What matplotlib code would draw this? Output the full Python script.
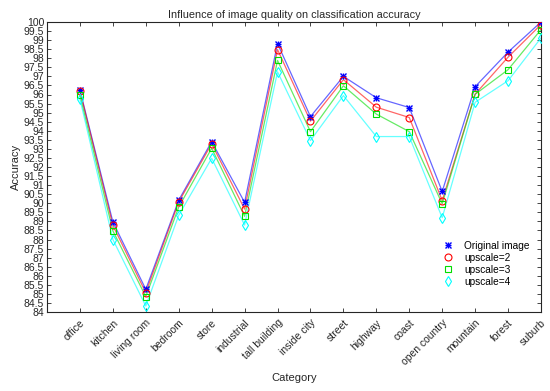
import matplotlib
matplotlib.use("Agg")
import matplotlib.pyplot as plt
import numpy as np

plt.rcParams['font.family'] = ['Liberation Sans', 'DejaVu Sans']

categories = ["office", "kitchen", "living room", "bedroom", "store", "industrial",
              "tall building", "inside city", "street", "highway", "coast",
              "open country", "mountain", "forest", "suburb"]

original = [96.25, 88.97, 85.25, 90.17, 93.40, 90.05, 98.81, 94.78, 97.00, 95.82, 95.28, 90.65, 96.43, 98.34, 100.00]
upscale2 = [96.20, 88.78, 85.07, 90.07, 93.28, 89.68, 98.48, 94.53, 96.82, 95.30, 94.73, 90.15, 96.02, 98.06, 99.86]
upscale3 = [95.95, 88.48, 84.85, 89.79, 93.03, 89.28, 97.88, 93.95, 96.48, 94.92, 93.95, 89.97, 96.01, 97.37, 99.58]
upscale4 = [95.75, 88.00, 84.33, 89.34, 92.48, 88.80, 97.25, 93.46, 95.94, 93.68, 93.68, 89.20, 95.57, 96.76, 99.12]

series = [
    ("Original image", original, "#0000ff", "*", 5),
    ("upscale=2", upscale2, "#ff0000", "o", 5),
    ("upscale=3", upscale3, "#00dd00", "s", 4.5),
    ("upscale=4", upscale4, "#00ffff", "d", 5),
]

fig = plt.figure(figsize=(5.5, 3.91), dpi=100)
ax = fig.add_axes([47/550, 1 - 312/391, 494/550, 290/391])

x = np.arange(1, len(categories) + 1)
handles = []
for label, vals, color, marker, ms in series:
    ax.plot(x, vals, color=color, lw=0.9, alpha=0.6, zorder=2)
    if marker == "*":
        kw = dict(linestyle='none', markeredgecolor=color, markeredgewidth=1.0)
        ax.plot(x, vals, marker='+', markersize=ms, zorder=3, **kw)
        ax.plot(x, vals, marker='x', markersize=ms * 0.75, zorder=3, **kw)
        h1, = ax.plot([], [], marker='+', markersize=ms, **kw)
        h2, = ax.plot([], [], marker='x', markersize=ms * 0.75, **kw)
        handles.append(((h1, h2), label))
    else:
        ax.plot(x, vals, linestyle='none', marker=marker, markersize=ms,
                markerfacecolor='none', markeredgecolor=color, markeredgewidth=0.8, zorder=3)
        h, = ax.plot([], [], linestyle='none', marker=marker, markersize=ms,
                     markerfacecolor='none', markeredgecolor=color, markeredgewidth=0.8)
        handles.append((h, label))

ax.set_xlim(0, 15)
ax.set_ylim(84, 100)
yt = np.arange(84, 100.01, 0.5)
ax.set_yticks(yt)
ax.set_yticklabels([f"{v:g}" for v in yt])
ax.set_xticks(x)
ax.set_xticklabels(categories, rotation=45, ha='right', rotation_mode='anchor')

ax.tick_params(direction='in', length=3, width=0.6, top=True, right=True,
               labelsize=7.5, colors='#262626', pad=2)
ax.tick_params(axis='x', pad=4)
for s in ax.spines.values():
    s.set_linewidth(0.8)
    s.set_color('#262626')

ax.set_title("Influence of image quality on classification accuracy", fontsize=7.8, pad=3, color='#262626')
ax.set_xlabel("Category", fontsize=8, color='#262626')
ax.set_ylabel("Accuracy", fontsize=8, color='#262626', labelpad=2)

ax.legend([h for h, _ in handles], [l for _, l in handles], loc='lower right', frameon=False,
          fontsize=7.3, bbox_to_anchor=(0.995, 0.055), handletextpad=0.6, labelspacing=0.2)

fig.savefig("out.png", dpi=100)
